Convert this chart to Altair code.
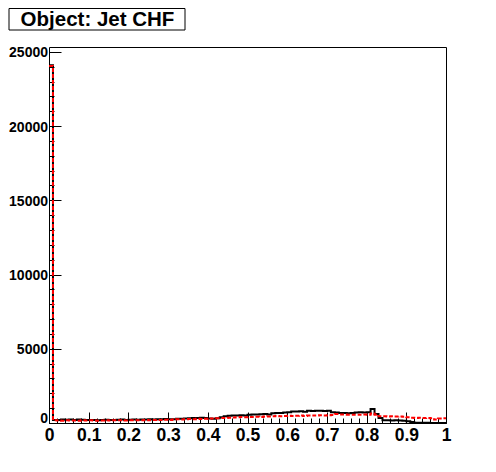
import altair as alt
import pandas as pd

title_text = "Object: Jet CHF"
bin_width = 0.01

black_counts = [
    24100,
    210, 200, 230, 220, 240, 210, 230, 220, 200, 210,
    200, 190, 210, 220, 200, 210, 220, 230, 210, 220,
    230, 220, 240, 230, 250, 240, 250, 260, 270, 250,
    260, 280, 290, 300, 320, 340, 330, 350, 340,
    300, 290, 320, 380, 450, 490, 510, 500, 520, 510,
    560, 580, 570, 590, 600, 580, 650, 680, 670, 700,
    720, 780, 770, 790, 760, 820, 810, 830, 820, 810,
    820, 720, 700, 680, 670, 660, 680, 700, 720, 710,
    720, 940, 600, 340, 190, 180, 170, 180, 170, 160,
    110, 60, 20, 15, 10, 10, 5, 5, 5, 5,
]
red_counts = [
    24050,
    180, 170, 160, 180, 170, 170, 160, 180, 170, 180,
    170, 160, 170, 180, 170, 180, 190, 180, 170, 180,
    180, 190, 180, 200, 190, 200, 210, 200, 220, 210,
    230, 250, 240, 260, 270, 260, 280, 270, 290, 300,
    310, 320, 330, 340, 350, 370, 380,
    400, 390, 410, 400, 420, 410, 430, 440, 450,
    470, 460, 480, 490, 470, 490, 500, 480, 500,
    510, 500, 520, 510, 520, 540, 600,
    580, 570, 560, 560, 550, 560, 570, 560, 640,
    560, 460, 450, 440, 450, 430, 440, 420,
    380, 350, 340, 350, 330, 340, 320, 230, 300, 320,
]
assert len(black_counts) == 100, len(black_counts)
assert len(red_counts) == 100, len(red_counts)

x_major = [0, 0.1, 0.2, 0.3, 0.4, 0.5, 0.6, 0.7, 0.8, 0.9, 1]
x_minor = [round(k * 0.02, 2) for k in range(51)]
y_major = [0, 5000, 10000, 15000, 20000, 25000]
y_minor = [k * 1000 for k in range(26)]


def steps(counts):
    xs = [round(i * bin_width, 2) for i in range(len(counts))] + [1.0]
    ys = list(counts) + [counts[-1]]
    return pd.DataFrame({"x": xs, "y": ys})


FONT = "Liberation Sans, Arial, Helvetica, sans-serif"
xs = alt.Scale(domain=[0, 1], nice=False, zero=False)
ys = alt.Scale(domain=[0, 25330], nice=False)

common_axis = dict(domain=False, grid=False, tickColor="black", tickWidth=1,
                   labelFont=FONT, labelFontWeight="bold", labelColor="black",
                   labelFlush=False, labelOverlap=False, title=None)

black = alt.Chart(steps(black_counts)).mark_line(
    interpolate="step-after", color="black", strokeWidth=2
).encode(
    x=alt.X("x:Q", scale=xs, axis=alt.Axis(values=x_major, tickSize=11, offset=-11,
            orient="bottom", labelFontSize=17.5, labelPadding=3, format="~g", **common_axis)),
    y=alt.Y("y:Q", scale=ys, axis=alt.Axis(values=y_major, tickSize=12, offset=-12,
            orient="left", labelFontSize=14, labelPadding=1.5, format="d",
            labelOffset={"condition": {"test": "datum.value == 0", "value": -5}, "value": 1},
            **common_axis)),
)

red = alt.Chart(steps(red_counts)).mark_line(
    interpolate="step-after", color="#ff0000", strokeWidth=2, strokeDash=[4, 2]
).encode(
    x=alt.X("x:Q", scale=xs, axis=alt.Axis(values=x_minor, tickSize=5, offset=-5,
            orient="bottom", labels=False, **common_axis)),
    y=alt.Y("y:Q", scale=ys, axis=alt.Axis(values=y_minor, tickSize=5, offset=-5,
            orient="left", labels=False, **common_axis)),
)

tdf = pd.DataFrame({"label": [title_text]})
box = alt.Chart(tdf).mark_rect(fill="white", stroke="black", strokeWidth=1).encode(
    x=alt.value(-40), x2=alt.value(136), y=alt.value(-38.5), y2=alt.value(-17)
)
ttext = alt.Chart(tdf).mark_text(
    font=FONT, fontWeight="bold", fontSize=20.5, color="black", baseline="middle", align="center"
).encode(x=alt.value(48.5), y=alt.value(-27.5), text="label:N")

chart = alt.layer(black, red, box, ttext).resolve_axis(
    x="independent", y="independent"
).properties(
    width=397, height=376,
    background="white",
    autosize=alt.AutoSizeParams(type="none"),
    padding={"left": 41, "top": 39, "right": 30, "bottom": 30},
).configure_view(stroke="black", strokeWidth=1)

chart.save("out.html", embed_options={"renderer": "svg", "actions": False})
